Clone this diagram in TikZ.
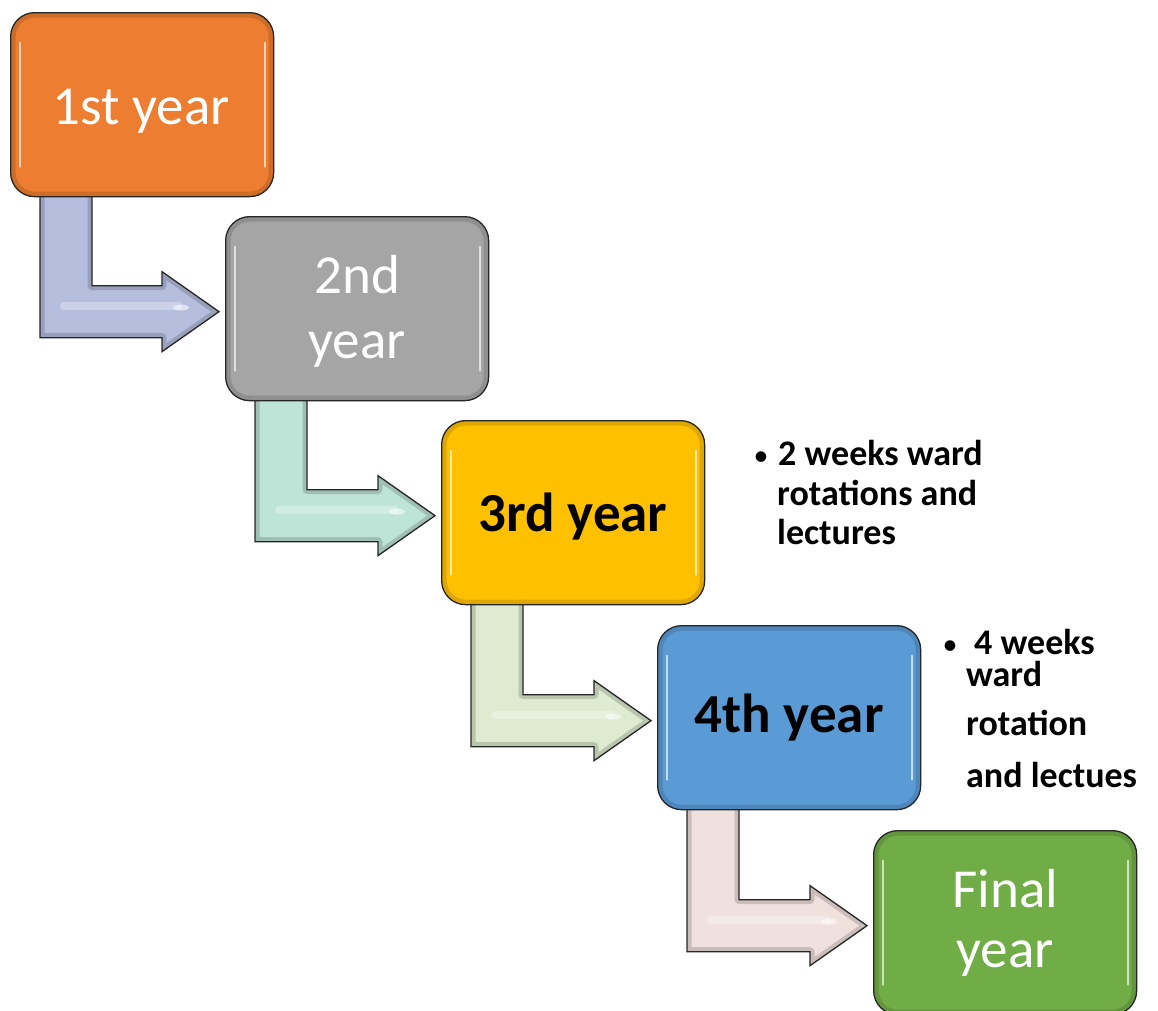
\documentclass[tikz,border=0pt]{standalone}
\usepackage{fontspec}
\setmainfont{Carlito}
\usetikzlibrary{calc}
\definecolor{cOrange}{HTML}{ED7D31}
\definecolor{cGray}{HTML}{A5A5A5}
\definecolor{cYellow}{HTML}{FFC000}
\definecolor{cBlue}{HTML}{5B9BD5}
\definecolor{cGreen}{HTML}{70AD47}
\definecolor{aLav}{HTML}{B6BEDE}
\definecolor{aMint}{HTML}{BEE4D7}
\definecolor{aLime}{HTML}{DEEBD0}
\definecolor{aPink}{HTML}{F0E1DE}
\newcommand\arrpath[1]{(s#1) -- ++(52,0) -- ($(s#1|-t#1)+(52,-26)$) -- ($(t#1)+(-57,-26)$) -- ($(t#1)+(-57,-40)$) -- (t#1) -- ($(t#1)+(-57,40)$) -- ($(t#1)+(-57,26)$) -- ($(s#1|-t#1)+(0,26)$) -- cycle}
\newcommand\bentarrow[3]{%
  \coordinate (s#1) at ($(#1.south west)+(30,-12)$);
  \coordinate (t#1) at ($(#2.west)+(-6,3)$);
  \path[arrowshape, fill=#3, path picture={
      \draw[line width=9pt, black, opacity=.16, line join=round] \arrpath{#1};
      \draw[white, opacity=.3, line width=8pt, line cap=round] ($(s#1|-t#1)+(24,-6)$) -- ($(t#1)+(-40,-6)$);
      \fill[white, opacity=.55] ($(t#1)+(-38,-4)$) ellipse (8pt and 3pt);
    }] \arrpath{#1};
  \draw[arrowline] \arrpath{#1};
}
\begin{document}
\begin{tikzpicture}[x=1pt,y=-1pt,
  yearbox/.style={draw=black!85, line width=1.3pt, rounded corners=24pt,
    minimum width=263pt, minimum height=184pt, inner sep=0pt, anchor=north west,
    path picture={
      \draw[line width=10pt, black, opacity=.13, rounded corners=24pt]
        (path picture bounding box.north west) rectangle (path picture bounding box.south east);
      \draw[white, opacity=.65, line width=2.2pt, line cap=round]
        ($(path picture bounding box.north west)+(9,30)$) -- ($(path picture bounding box.south west)+(9,-30)$);
      \draw[white, opacity=.65, line width=2.2pt, line cap=round]
        ($(path picture bounding box.north east)+(-9,30)$) -- ($(path picture bounding box.south east)+(-9,-30)$);
    }},
  arrowshape/.style={draw=none},
  arrowline/.style={draw=black!85, line width=1.3pt, line join=miter},
  wtext/.style={text=white, font=\fontsize{55}{65}\selectfont, inner sep=0pt, anchor=base},
  btext/.style={text=black, font=\bfseries\fontsize{55}{65}\selectfont, inner sep=0pt, anchor=base},
  note/.style={text=black, font=\bfseries\fontsize{36}{40}\selectfont, inner sep=0pt, anchor=base west},
  bul/.style={text=black, font=\fontsize{30}{34}\selectfont, inner sep=0pt, anchor=base},
]
\useasboundingbox (0,0) rectangle (1158,1010);
\clip (0,0) rectangle (1158,1010);
% box frames used as anchors
\path (10,12) node[yearbox, draw=none, path picture={}] (b1) {}
      (225,216) node[yearbox, draw=none, path picture={}] (b2) {}
      (441,420) node[yearbox, draw=none, path picture={}] (b3) {}
      (657,625) node[yearbox, draw=none, path picture={}] (b4) {}
      (873,830) node[yearbox, draw=none, path picture={}] (b5) {};
% bent arrows
\bentarrow{b1}{b2}{aLav}
\bentarrow{b2}{b3}{aMint}
\bentarrow{b3}{b4}{aLime}
\bentarrow{b4}{b5}{aPink}
% boxes drawn on top
\node[yearbox, fill=cOrange] (B1) at (b1.north west) {};
\node[yearbox, fill=cGray] (B2) at (b2.north west) {};
\node[yearbox, fill=cYellow] (B3) at (b3.north west) {};
\node[yearbox, fill=cBlue] (B4) at (b4.north west) {};
\node[yearbox, fill=cGreen] (B5) at (b5.north west) {};
% labels
\node[wtext] (l1) at ($(B1.center)+(-1,19.5)$) {1st year};
\node[wtext] (l2a) at ($(B2.center)+(0,-15)$) {2nd};
\node[wtext] (l2b) at ($(B2.center)+(0,50)$) {year};
\node[btext] (l3) at ($(B3.center)+(0,19)$) {3rd year};
\node[btext] (l4) at ($(B4.center)+(0,15)$) {4th year};
\node[wtext] (l5a) at ($(B5.center)+(0,-15)$) {Final};
\node[wtext] (l5b) at ($(B5.center)+(0,45)$) {year};
% notes
\node[bul] (bu1) at (761,465) {•};
\node[note] (n1a) at (778,465) {2 weeks ward};
\node[note] (n1b) at (777,505) {rotations and};
\node[note] (n1c) at (777,544) {lectures};
\node[bul] (bu2) at (950,654) {•};
\node[note] (n2a) at (974,654) {4 weeks};
\node[note] (n2b) at (966,686) {ward};
\node[note] (n2c) at (966,735) {rotation};
\node[note] (n2d) at (966,787) {and lectues};
\end{tikzpicture}
\end{document}
